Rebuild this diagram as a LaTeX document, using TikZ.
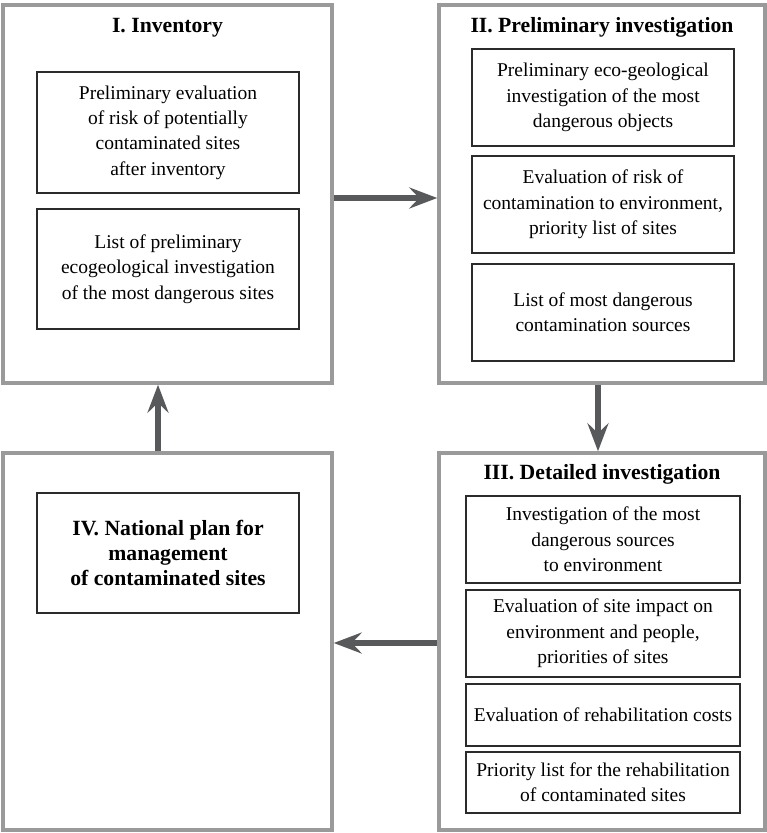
\documentclass[tikz,border=0pt]{standalone}
\usepackage{fontspec}
\setmainfont{Liberation Serif}
\usetikzlibrary{arrows.meta}
\definecolor{outergray}{HTML}{9A9A9A}
\definecolor{arrowgray}{HTML}{58595B}
\definecolor{innerline}{HTML}{2B2B2B}
\tikzset{
  outerbox/.style={draw=outergray, line width=3.5pt, rectangle, inner sep=0pt},
  innerbox/.style={draw=innerline, line width=1.3pt, rectangle, inner sep=0pt, align=center,
    font=\fontsize{19.5}{25.3}\selectfont},
  boldtext/.style={font=\fontsize{21.7}{25}\selectfont\bfseries},
  titlebox/.style={inner sep=0pt, align=center, boldtext},
  flowarrow/.style={draw=arrowgray, line width=6pt,
    -{Stealth[length=28pt,width=21pt,inset=10pt]}},
}
\begin{document}
\begin{tikzpicture}[x=1pt,y=-1pt]
\useasboundingbox (0,0) rectangle (767,833);
\fill[white] (0,0) rectangle (767,833);
% outer boxes
\node[outerbox, minimum width=329pt, minimum height=378pt] (I) at (167.5,194) {};
\node[outerbox, minimum width=326pt, minimum height=378pt] (II) at (602,194) {};
\node[outerbox, minimum width=326pt, minimum height=377pt] (III) at (602,641.5) {};
\node[outerbox, minimum width=329pt, minimum height=377pt] (IV) at (167.5,641.5) {};
% I
\node[titlebox] (Ititle) at (167.5,28) {I. Inventory};
\node[innerbox, minimum width=262pt, minimum height=121pt] (Ia) at (168,132.5)
  {Preliminary evaluation\\of risk of potentially\\contaminated sites\\after inventory};
\node[innerbox, minimum width=262pt, minimum height=120pt] (Ib) at (168,269)
  {List of preliminary\\ecogeological investigation\\of the most dangerous sites};
% II
\node[titlebox] (IItitle) at (602,27) {II. Preliminary investigation};
\node[innerbox, minimum width=262pt, minimum height=97pt] (IIa) at (603,97.5)
  {Preliminary eco-geological\\investigation of the most\\dangerous objects};
\node[innerbox, minimum width=262pt, minimum height=97pt] (IIb) at (603,204.5)
  {Evaluation of risk of\\contamination to environment,\\priority list of sites};
\node[innerbox, minimum width=262pt, minimum height=97pt] (IIc) at (603,312.5)
  {List of most dangerous\\contamination sources};
% III
\node[titlebox] (IIItitle) at (602,474) {III. Detailed investigation};
\node[innerbox, minimum width=274pt, minimum height=87pt] (IIIa) at (603,539.5)
  {Investigation of the most\\dangerous sources\\to environment};
\node[innerbox, minimum width=274pt, minimum height=87pt] (IIIb) at (603,633.5)
  {Evaluation of site impact on\\environment and people,\\priorities of sites};
\node[innerbox, minimum width=274pt, minimum height=62pt] (IIIc) at (603,715)
  {Evaluation of rehabilitation costs};
\node[innerbox, minimum width=274pt, minimum height=61pt] (IIId) at (603,782.5)
  {Priority list for the rehabilitation\\of contaminated sites};
% IV
\node[innerbox, minimum width=262pt, minimum height=120pt, boldtext] (IVa) at (168,553)
  {IV. National plan for\\management\\of contaminated sites};
% arrows
\draw[flowarrow] (I.east |- 0,198) -- (II.west |- 0,198);
\draw[flowarrow] (II.south -| 598,0) -- (III.north -| 598,0);
\draw[flowarrow] (III.west |- 0,643) -- (IV.east |- 0,643);
\draw[flowarrow] (IV.north -| 158,0) -- (I.south -| 158,0);
\end{tikzpicture}
\end{document}
